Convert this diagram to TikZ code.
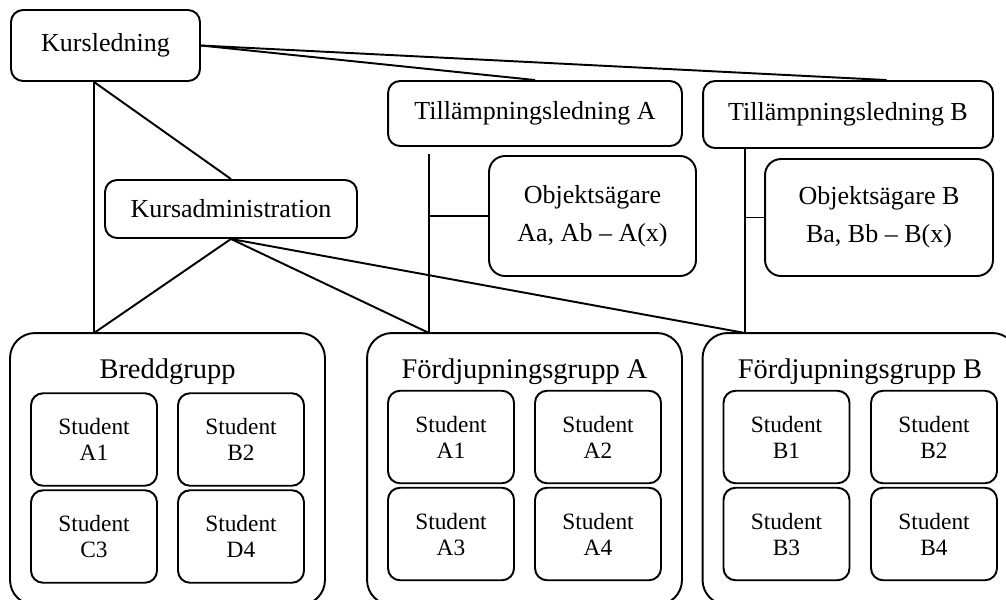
\documentclass[tikz,border=0pt]{standalone}
\usepackage{fontspec}
\setmainfont{Liberation Serif}
\usepackage{tikz}

\begin{document}
\begin{tikzpicture}[x=0.02cm, y=-0.02cm,
        box/.style={draw, line width=1.1pt, rounded corners=0.24cm, align=center, inner sep=0pt,
                    font=\fontsize{14.8}{21.6}\selectfont},
        owner/.style={box, rounded corners=0.32cm},
        group/.style={draw, line width=1.1pt, rounded corners=0.5cm, inner sep=0pt,
                      minimum width=6.3cm, minimum height=5.44cm},
        grouptitle/.style={inner sep=0pt, font=\fontsize{16.2}{19}\selectfont},
        student/.style={box, minimum width=2.52cm, minimum height=1.85cm,
                        font=\fontsize{13.3}{14.8}\selectfont},
        link/.style={line width=1.1pt}]
            % Frame to fix the page:
            \useasboundingbox                                             (0, 0) rectangle (1006, 599);
            \node[box,   minimum width=3.78cm, minimum height=1.42cm] (kursledning) at (105.5,  45.5) {Kursledning};
            \node[box,   minimum width=5.88cm, minimum height=1.30cm] (tillA)       at (535.0, 113.5) {Tillämpningsledning A};
            \node[box,   minimum width=5.80cm, minimum height=1.34cm] (tillB)       at (848.0, 114.5) {Tillämpningsledning B};
            \node[owner, minimum width=4.14cm, minimum height=2.40cm] (objA)        at (592.5, 216.0) {Objektsägare\\Aa, Ab – A(x)};
            \node[owner, minimum width=4.56cm, minimum height=2.34cm] (objB)        at (879.0, 217.5) {Objektsägare B\\Ba, Bb – B(x)};
            \node[box,   minimum width=5.04cm, minimum height=1.16cm] (kursadm)     at (231.0, 209.0) {Kursadministration};

            % Groups
            \node[group] (bredd) at (167.5, 469.0) {};
            \node[group] (fgA)   at (524.5, 469.0) {};
            \node[group] (fgB)   at (860.0, 469.0) {};
            \node[grouptitle] (bredd-title) at (167.5, 372.0) {Breddgrupp};
            \node[grouptitle] (fgA-title)   at (524.5, 372.0) {Fördjupningsgrupp A};
            \node[grouptitle] (fgB-title)   at (860.0, 372.0) {Fördjupningsgrupp B};

            \node[student] (brA1) at ( 94.0, 439.5) {Student\\A1};
            \node[student] (brB2) at (241.0, 439.5) {Student\\B2};
            \node[student] (brC3) at ( 94.0, 536.5) {Student\\C3};
            \node[student] (brD4) at (241.0, 536.5) {Student\\D4};
            \node[student] (faA1) at (451.0, 437.0) {Student\\A1};
            \node[student] (faA2) at (598.0, 437.0) {Student\\A2};
            \node[student] (faA3) at (451.0, 534.0) {Student\\A3};
            \node[student] (faA4) at (598.0, 534.0) {Student\\A4};
            \node[student] (fbB1) at (786.5, 437.0) {Student\\B1};
            \node[student] (fbB2) at (934.0, 437.0) {Student\\B2};
            \node[student] (fbB3) at (786.5, 534.0) {Student\\B3};
            \node[student] (fbB4) at (934.0, 534.0) {Student\\B4};

            % Joints on the group tops
            \coordinate (brtop) at ( 94, 333);
            \coordinate (fatop) at (429, 333);
            \coordinate (fbtop) at (745, 333);

            \draw[link] (kursledning.east)          -- (tillA.north);
            \draw[link] (kursledning.east)          -- ([xshift=22]tillB.north);
            \draw[link] (kursledning.south -| brtop) -- (brtop);
            \draw[link] (kursledning.south -| brtop) -- (kursadm.north);
            \draw[link] (kursadm.south)             -- (brtop);
            \draw[link] (kursadm.south)             -- (fatop);
            \draw[link] (kursadm.south)             -- (fbtop);
            \draw[link] ([yshift=-4]tillA.south -| fatop) -- (fatop);
            \draw[link] (objA.west -| fatop)        -- (objA.west);
            \draw[link] (tillB.south -| fbtop)      -- (fbtop);
            \draw[link] (objB.west -| fbtop)        -- (objB.west);
        \end{tikzpicture}
\end{document}
